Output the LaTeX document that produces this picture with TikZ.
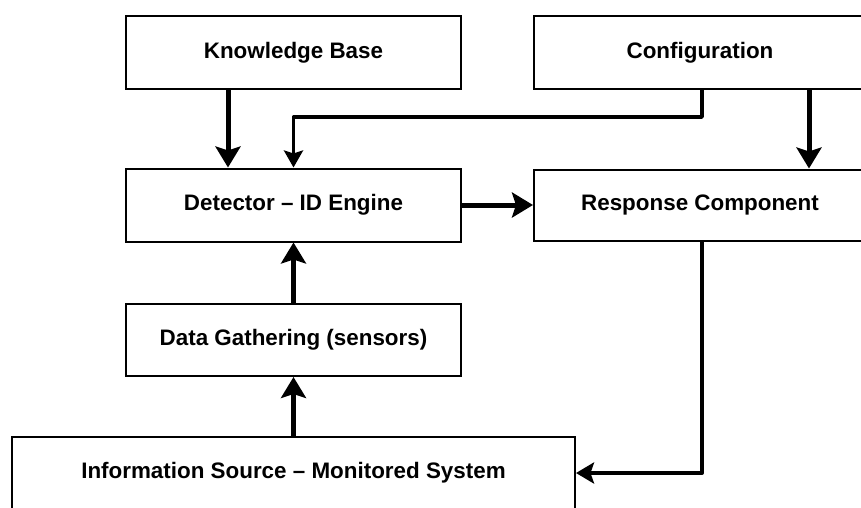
\documentclass[tikz,border=0pt]{standalone}
\usepackage{fontspec}
\setmainfont{Liberation Sans}
\usetikzlibrary{arrows.meta}
\tikzset{
  blk/.style={draw=black, line width=2pt, fill=white, minimum width=335pt,
    minimum height=73pt, inner sep=0pt, font=\fontsize{22.4}{25}\selectfont\bfseries},
  heavy/.style={line width=5pt, -{Stealth[length=21pt, width=25pt, inset=4pt]}},
  light/.style={line width=3.5pt, line join=round, -{Stealth[length=17pt, width=19pt, inset=3pt]}},
  medium/.style={line width=4pt, line join=round, -{Stealth[length=18pt, width=21pt, inset=3.5pt]}},
}
\begin{document}
\begin{tikzpicture}[x=1pt, y=-1pt]
\clip (0,0) rectangle (861,507);
\fill[white] (0,0) rectangle (861,507);

% blocks
\node[blk] (kb)   at (293.5, 52.5) {Knowledge Base};
\node[blk, minimum width=332pt] (cfg)  at (700, 52.5) {Configuration};
\node[blk] (det)  at (293.5, 205) {Detector -- ID Engine};
\node[blk, minimum width=332pt, minimum height=71pt] (resp) at (700, 205) {Response Component};
\node[blk, minimum height=72pt] (dg)   at (293.5, 340) {Data Gathering (sensors)};
\node[blk, minimum width=563pt, minimum height=72pt] (info) at (293.5, 473) {Information Source -- Monitored System};

% connectors
\draw[heavy] ([xshift=-65.5pt]kb.south) -- ([xshift=-65.5pt]det.north);
\draw[light] ([xshift=2pt]cfg.south) -- ++(0,27) -| (det.north);
\draw[heavy] ([xshift=109pt]cfg.south) -- ([xshift=109pt]resp.north);
\draw[heavy] (det.east) -- (resp.west);
\draw[heavy] (dg.north) -- (det.south);
\draw[heavy] (info.north) -- (dg.south);
\draw[medium] ([xshift=2pt]resp.south) |- (info.east);
\end{tikzpicture}
\end{document}
